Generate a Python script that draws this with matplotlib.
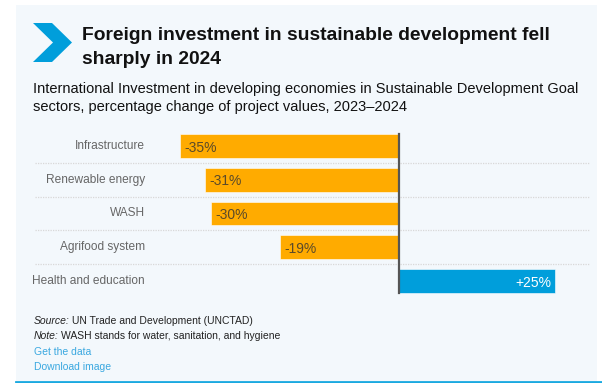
import matplotlib
matplotlib.use('Agg')
import matplotlib.pyplot as plt
from matplotlib.patches import Rectangle, Polygon
from matplotlib.lines import Line2D
from matplotlib import font_manager

# Data
categories = ['Infrastructure', 'Renewable energy', 'WASH', 'Agrifood system',
              'Health and education']
changes = [-35, -31, -30, -19, 25]
value_labels = ['-35%', '-31%', '-30%', '-19%', '+25%']

W, H = 602, 383
plt.rcParams['font.family'] = ['Liberation Sans', 'DejaVu Sans']
names = {f.name for f in font_manager.fontManager.ttflist}
has_narrow = 'Liberation Sans Narrow' in names
narrow = ['Liberation Sans Narrow'] if has_narrow else ['Liberation Sans']
cat_size = 10 if has_narrow else 8.6
val_size = 10.5 if has_narrow else 10

fig = plt.figure(figsize=(W / 100, H / 100), dpi=100)
fig.patch.set_facecolor('white')


def px(x, y):
    return x / W, 1 - y / H


# panel background and bottom rule
x0, y0 = px(16, 382)
fig.patches.append(Rectangle((x0, y0), 581 / W, 377 / H, transform=fig.transFigure,
                             facecolor='#f3f8fc', edgecolor='none', zorder=-5))
fig.lines.append(Line2D([16 / W, 1], [1 - 382 / H] * 2, transform=fig.transFigure,
                        color='#1aa9e0', lw=2))

# chevron
chev = [px(33, 23), px(52, 23), px(72, 42.5), px(52, 62), px(33, 62), px(53, 42.5)]
fig.patches.append(Polygon(chev, closed=True, transform=fig.transFigure,
                           facecolor='#009edb', edgecolor='none'))

# title / subtitle
fig.text(*px(82, 35), 'Foreign investment in sustainable development fell',
         fontsize=13.9, fontweight='bold', color='#111111', va='center')
fig.text(*px(82, 59), 'sharply in 2024',
         fontsize=13.9, fontweight='bold', color='#111111', va='center')
fig.text(*px(33, 89), 'International Investment in developing economies in Sustainable Development Goal',
         fontsize=10.5, color='#111111', va='center')
fig.text(*px(33, 107), 'sectors, percentage change of project values, 2023\u20132024',
         fontsize=10.5, color='#111111', va='center')

# bar axes: zero at x=399, -35 at x=180
scale = (399 - 180) / 35.0
ax_left, ax_right = 35, 590
ax = fig.add_axes([ax_left / W, 1 - 298 / H, (ax_right - ax_left) / W, 169 / H])
ax.set_xlim(-(399 - ax_left) / scale, (ax_right - 399) / scale)
ax.set_ylim(len(categories) - 0.5, -0.5)
ax.axis('off')

ypos = list(range(len(categories)))
colors = ['#ffab00' if v < 0 else '#009edb' for v in changes]
ax.barh(ypos, changes, height=0.71, color=colors, edgecolor='white', linewidth=0.4, zorder=2)

# dotted separators
for i in range(len(categories) - 1):
    ax.axhline(i + 0.5, color='#d8d8d8', lw=0.9, ls=(0, (1, 1)), zorder=1)

ax.plot([0, 0], [-0.36, len(categories) - 1 + 0.36], color='#555555', lw=1.6, zorder=3)

label_x = -(399 - 145) / scale
pad = 4 / scale
for i, (cat, v, lab) in enumerate(zip(categories, changes, value_labels)):
    ax.text(label_x, i, cat, ha='right', va='center', fontsize=cat_size,
            color='#666666', family=narrow)
    if v < 0:
        ax.text(v + pad, i + 0.05, lab, ha='left', va='center', fontsize=val_size,
                color='#5a4a2a', family=narrow, zorder=4)
    else:
        ax.text(v - pad, i + 0.05, lab, ha='right', va='center', fontsize=val_size,
                color='white', family=narrow, zorder=4)

# footer
renderer = fig.canvas.get_renderer()


def two_part(y, first, rest):
    t = fig.text(*px(34, y), first, fontsize=7.5, style='italic', color='#222222', va='center')
    w = t.get_window_extent(renderer).width
    fig.text((34 + w + 2.5) / W, 1 - y / H, rest, fontsize=7.5, color='#222222', va='center')


two_part(321, 'Source:', 'UN Trade and Development (UNCTAD)')
two_part(336, 'Note:', 'WASH stands for water, sanitation, and hygiene')
fig.text(*px(34, 352), 'Get the data', fontsize=7.5, color='#3aa8e0', va='center')
fig.text(*px(34, 367), 'Download image', fontsize=7.5, color='#3aa8e0', va='center')

fig.savefig('out.png', dpi=100)
